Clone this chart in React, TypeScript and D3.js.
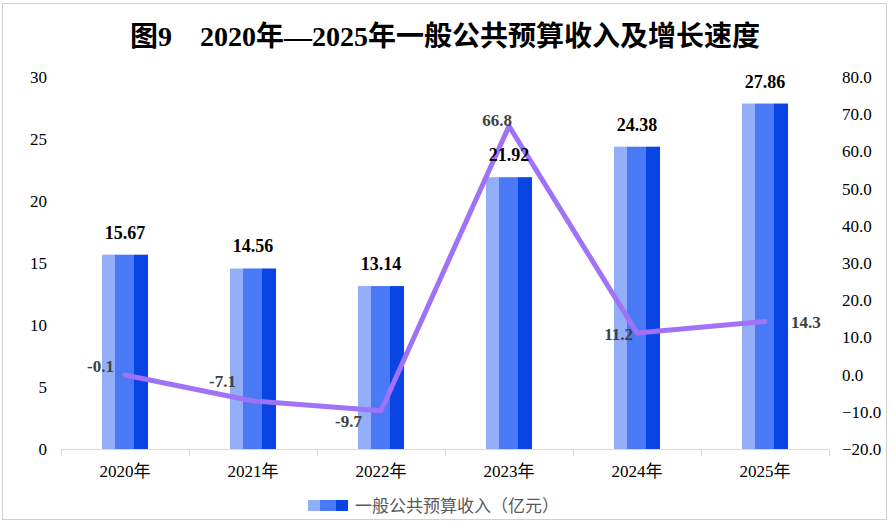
import React from 'react';
import * as d3 from 'd3';

const years = ['2020年', '2021年', '2022年', '2023年', '2024年', '2025年'];
const revenue = [15.67, 14.56, 13.14, 21.92, 24.38, 27.86];
const growth = [-0.1, -7.1, -9.7, 66.8, 11.2, 14.3];
const leftTicks = [0, 5, 10, 15, 20, 25, 30];
const rightTicks = [-20, -10, 0, 10, 20, 30, 40, 50, 60, 70, 80];

// hand placed growth labels (offset from the point, text anchor)
const growthLabelPos: { dx: number; dy: number; anchor: string }[] = [
  { dx: -11, dy: -3, anchor: 'end' },
  { dx: -17, dy: -14, anchor: 'end' },
  { dx: -19, dy: 16, anchor: 'end' },
  { dx: -12, dy: 0, anchor: 'middle' },
  { dx: -4, dy: 7, anchor: 'end' },
  { dx: 26, dy: 7, anchor: 'start' },
];

const W = 895;
const H = 526;
const serif = "'Liberation Serif', 'Times New Roman', 'DejaVu Serif', 'Noto Sans CJK SC', serif";

const App = () => {
  const x = d3
    .scaleBand<string>()
    .domain(years)
    .range([61, 829])
    .paddingInner(0.64)
    .paddingOuter(0.32);
  const step = x.step();
  const yL = d3.scaleLinear().domain([0, 30]).range([449, 77]);
  const yR = d3.scaleLinear().domain([-20, 80]).range([449, 77]);

  const cx = (i: number) => x(years[i])! + x.bandwidth() / 2;

  const line = d3
    .line<number>()
    .x((_, i) => cx(i))
    .y((d) => yR(d));

  const boundaries = d3.range(years.length + 1).map((i) => 61 + i * step);

  return (
    <div style={{ position: 'absolute', left: 0, top: 0 }}>
      <svg width={W} height={H} style={{ display: 'block', background: '#fff' }}>
        <defs>
          <linearGradient id="barFill" x1="0" x2="1" y1="0" y2="0">
            <stop offset="0" stopColor="#93aef9" />
            <stop offset="0.29" stopColor="#93aef9" />
            <stop offset="0.29" stopColor="#4a79f6" />
            <stop offset="0.70" stopColor="#4a79f6" />
            <stop offset="0.70" stopColor="#0a45e4" />
            <stop offset="1" stopColor="#0a45e4" />
          </linearGradient>
        </defs>

        <rect x={2.5} y={3.5} width={884} height={516} fill="none" stroke="#d0d0d0" />

        <text
          x={445}
          y={46}
          textAnchor="middle"
          style={{ fontFamily: serif, fontWeight: 'bold', fontSize: 28 }}
          fill="#000"
        >
          图9{'\u3000'}2020年—2025年一般公共预算收入及增长速度
        </text>

        {/* left axis labels */}
        {leftTicks.map((t) => (
          <text
            key={`l${t}`}
            x={47}
            y={yL(t)}
            dy="0.35em"
            textAnchor="end"
            style={{ fontFamily: serif, fontSize: 17 }}
            fill="#000"
          >
            {t}
          </text>
        ))}

        {/* right axis labels */}
        {rightTicks.map((t) => (
          <text
            key={`r${t}`}
            x={842}
            y={yR(t)}
            dy="0.35em"
            textAnchor="start"
            style={{ fontFamily: serif, fontSize: 17 }}
            fill="#000"
          >
            {d3.format('.1f')(t)}
          </text>
        ))}

        {/* bars */}
        {revenue.map((v, i) => (
          <rect
            key={`b${i}`}
            x={x(years[i])}
            y={yL(v)}
            width={x.bandwidth()}
            height={yL(0) - yL(v)}
            fill="url(#barFill)"
          />
        ))}

        {/* x axis */}
        <line x1={61} x2={829} y1={449.5} y2={449.5} stroke="#d9d9d9" />
        {boundaries.map((b, i) => (
          <line key={`t${i}`} x1={b + 0.5} x2={b + 0.5} y1={449} y2={456} stroke="#d9d9d9" />
        ))}
        {years.map((yr, i) => (
          <text
            key={`c${i}`}
            x={cx(i)}
            y={477}
            textAnchor="middle"
            style={{ fontFamily: serif, fontSize: 17 }}
            fill="#000"
          >
            {yr}
          </text>
        ))}

        {/* growth line */}
        <path
          d={line(growth) ?? ''}
          fill="none"
          stroke="#9f72f7"
          strokeWidth={5}
          strokeLinejoin="round"
          strokeLinecap="round"
        />

        {/* bar value labels, drawn over the line */}
        {revenue.map((v, i) => (
          <text
            key={`bl${i}`}
            x={cx(i)}
            y={yL(v) - 16}
            textAnchor="middle"
            style={{ fontFamily: serif, fontWeight: 'bold', fontSize: 18 }}
            fill="#000"
          >
            {v.toFixed(2)}
          </text>
        ))}

        {growth.map((g, i) => (
          <text
            key={`g${i}`}
            x={cx(i) + growthLabelPos[i].dx}
            y={yR(g) + growthLabelPos[i].dy}
            textAnchor={growthLabelPos[i].anchor}
            style={{ fontFamily: serif, fontWeight: 'bold', fontSize: 17 }}
            fill="#404040"
          >
            {g.toFixed(1)}
          </text>
        ))}

        {/* legend */}
        <rect x={308} y={500} width={40} height={11} fill="url(#barFill)" />
        <text
          x={355}
          y={506}
          dy="0.35em"
          style={{ fontFamily: "'Noto Sans CJK SC', sans-serif", fontSize: 17 }}
          fill="#595959"
        >
          一般公共预算收入（亿元）
        </text>
      </svg>
    </div>
  );
};

export default App;
